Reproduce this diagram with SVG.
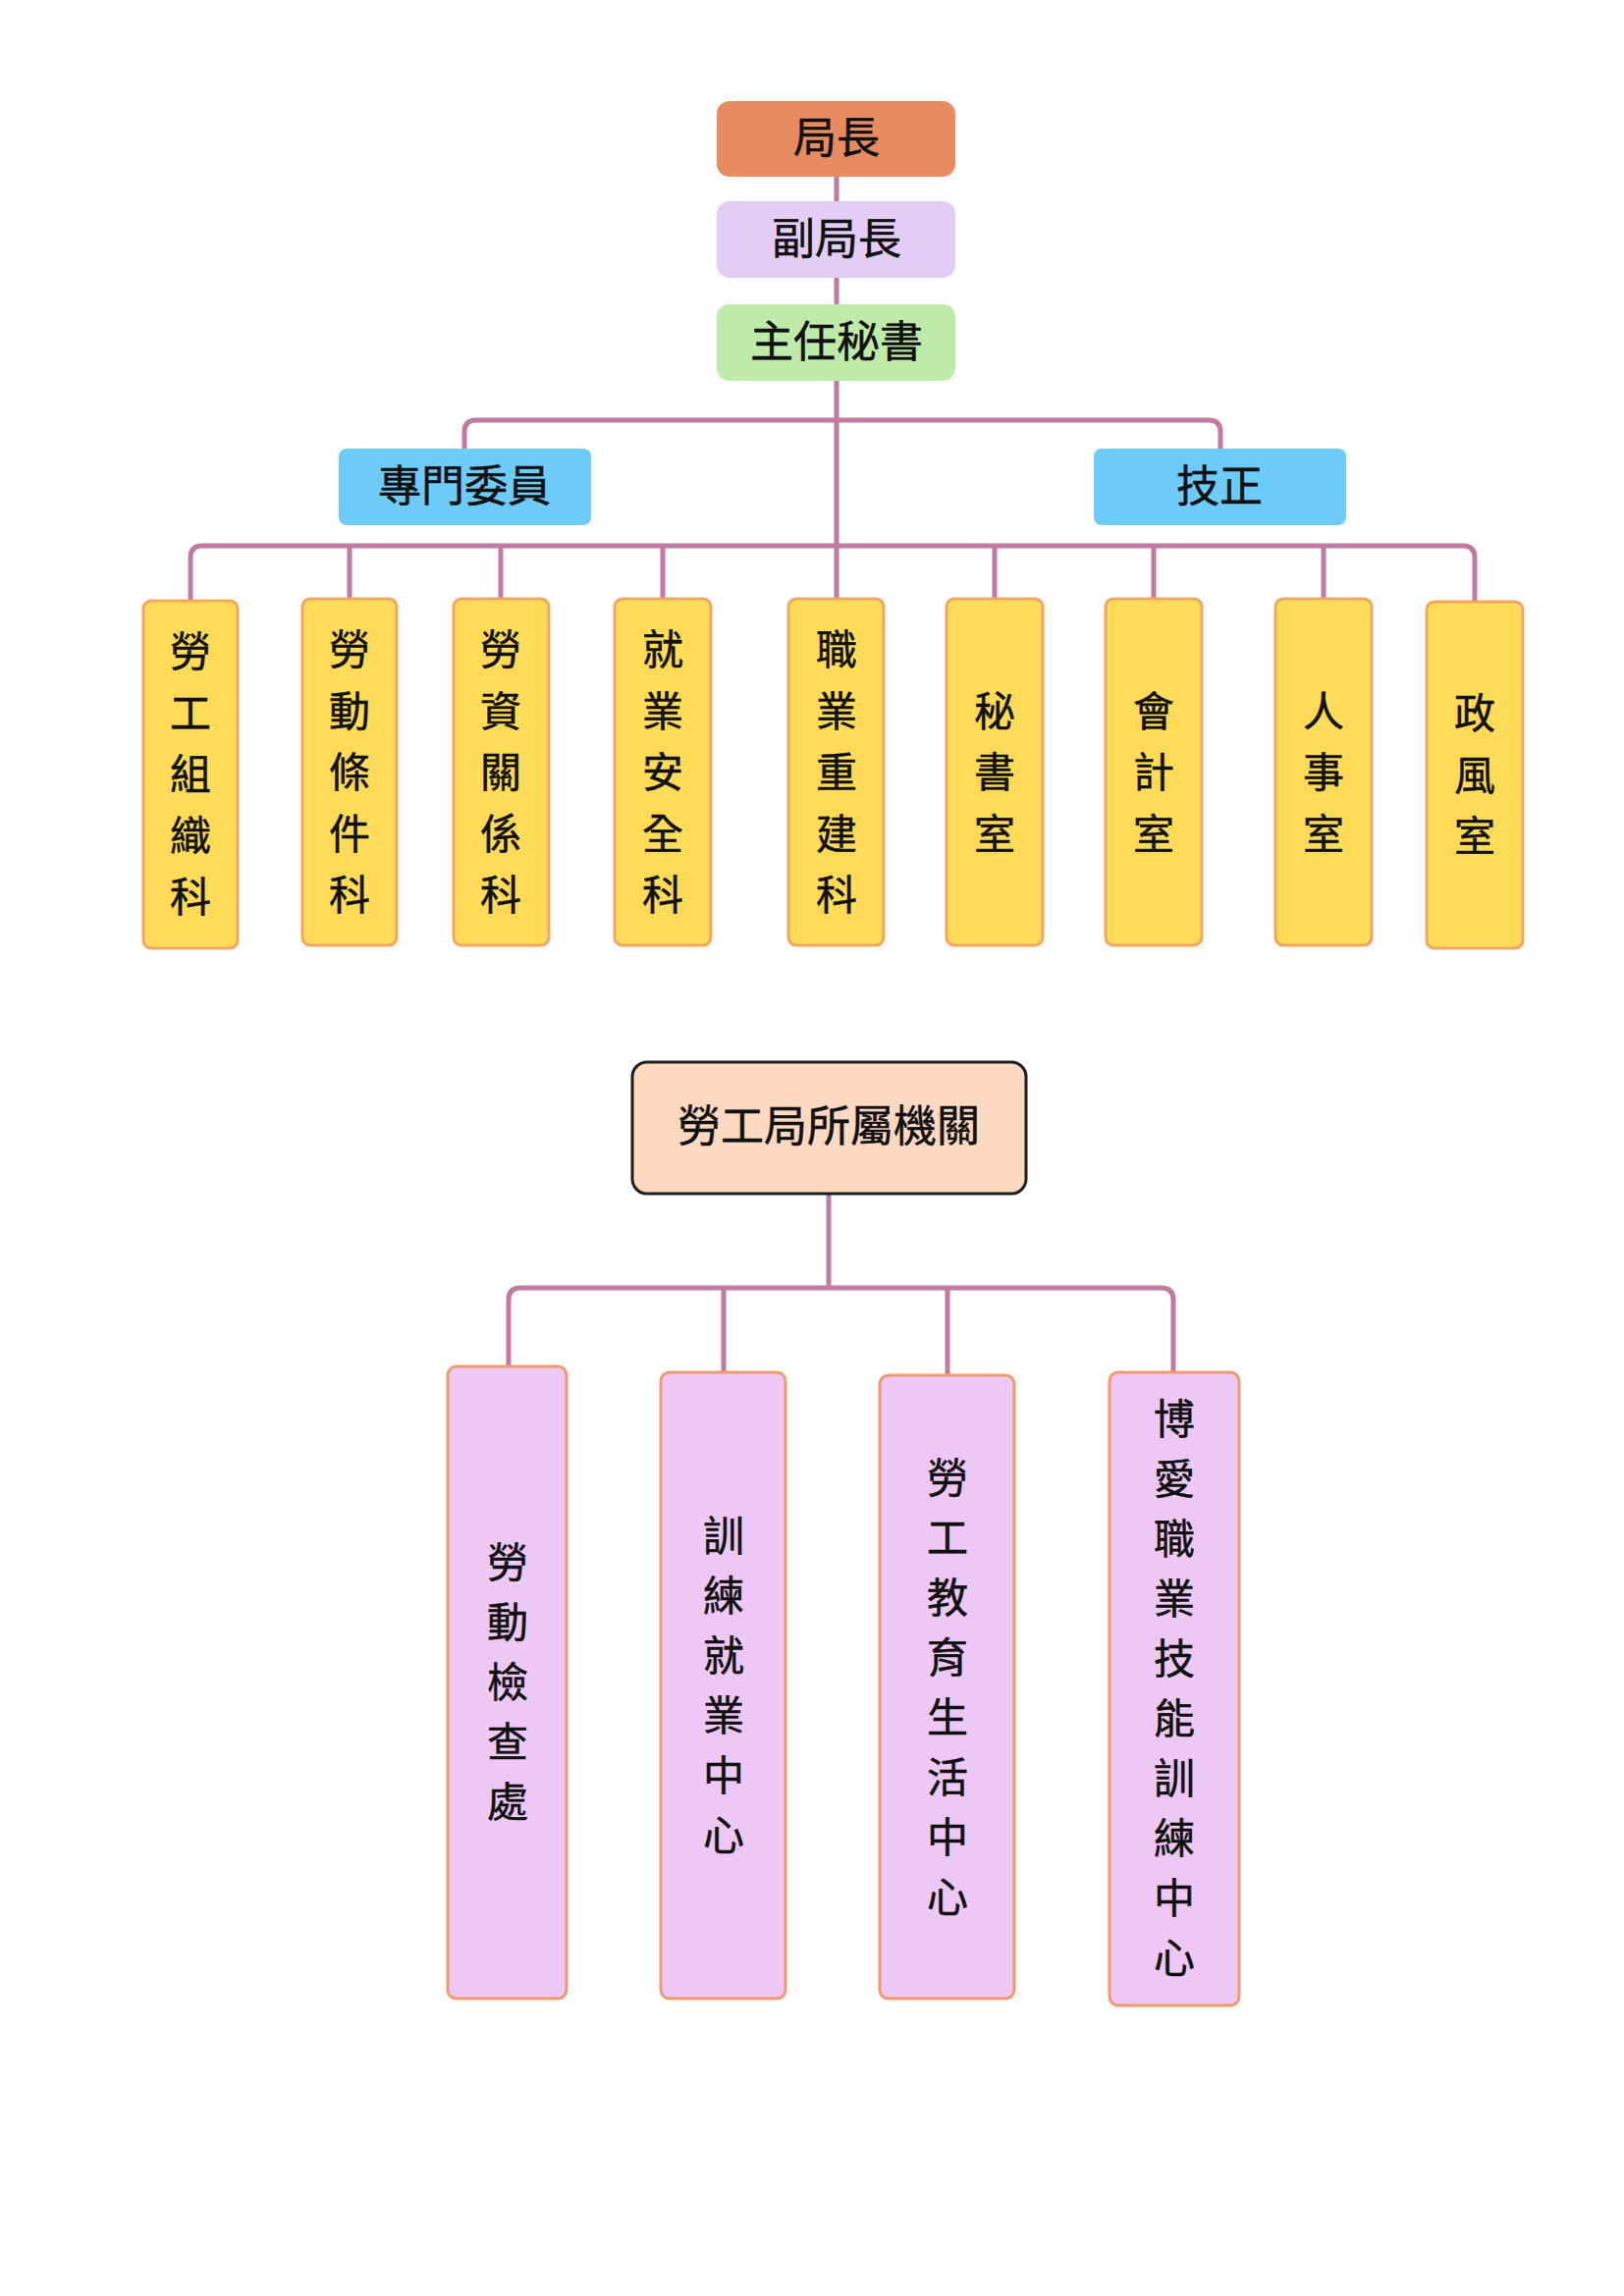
<svg xmlns="http://www.w3.org/2000/svg" width="1654" height="2339" viewBox="0 0 1654 2339">
<defs>
<style>
text{font-family:"Noto Sans CJK TC","Noto Sans CJK SC",sans-serif;fill:#111;text-anchor:middle;dominant-baseline:central;stroke:#111;stroke-width:0.5;transform:translateY(-4px)}
.t44{font-size:44px}
.t42{font-size:42px}
.conn{fill:none;stroke:#C27AA0;stroke-width:5;stroke-linecap:butt}
.yel{fill:#FFDB58;stroke:#F4A55E;stroke-width:3}
.pur{fill:#EDC8F4;stroke:#F29A6C;stroke-width:3}
</style>
</defs>
<rect width="1654" height="2339" fill="#FFFFFF"/>
<g id="connectors">
<path class="conn" d="M852,180 V610"/>
<path class="conn" d="M473,457 V440 Q473,428 485,428 H1231 Q1243,428 1243,440 V457"/>
<path class="conn" d="M194,612 V568 Q194,556 206,556 H1490 Q1502,556 1502,568 V613"/>
<path class="conn" d="M356,556 V610 M510,556 V610 M675,556 V610 M1013,556 V610 M1175,556 V610 M1348,556 V610"/>
<path class="conn" d="M844,1216 V1312"/>
<path class="conn" d="M518,1392 V1324 Q518,1312 530,1312 H1183 Q1195,1312 1195,1324 V1398"/>
<path class="conn" d="M737,1312 V1398 M965,1312 V1401"/>
</g>
<g id="n-director"><rect x="730" y="103" width="243" height="77" rx="13" fill="#E88B60"/><text class="t44" x="852" y="141">局長</text></g>
<g id="n-deputy"><rect x="730" y="205" width="243" height="78" rx="13" fill="#E3CDF6"/><text class="t44" x="852" y="244">副局長</text></g>
<g id="n-secretary"><rect x="730" y="310" width="243" height="78" rx="13" fill="#BFEBAA"/><text class="t44" x="852" y="349">主任秘書</text></g>
<g id="n-commissioner"><rect x="345" y="457" width="257" height="78" rx="8" fill="#6DCBFA"/><text class="t44" x="473" y="496">專門委員</text></g>
<g id="n-technician"><rect x="1114" y="457" width="257" height="78" rx="8" fill="#6DCBFA"/><text class="t44" x="1242" y="496">技正</text></g>
<g id="n-y1"><rect class="yel" x="146" y="612" width="96" height="354" rx="8"/><text class="t42"><tspan x="194" y="664">勞</tspan><tspan x="194" y="726.5">工</tspan><tspan x="194" y="789">組</tspan><tspan x="194" y="851.5">織</tspan><tspan x="194" y="914">科</tspan></text></g>
<g id="n-y2"><rect class="yel" x="308" y="610" width="96" height="353" rx="8"/><text class="t42"><tspan x="356" y="662">勞</tspan><tspan x="356" y="724.5">動</tspan><tspan x="356" y="787">條</tspan><tspan x="356" y="849.5">件</tspan><tspan x="356" y="912">科</tspan></text></g>
<g id="n-y3"><rect class="yel" x="462" y="610" width="97" height="353" rx="8"/><text class="t42"><tspan x="510" y="662">勞</tspan><tspan x="510" y="724.5">資</tspan><tspan x="510" y="787">關</tspan><tspan x="510" y="849.5">係</tspan><tspan x="510" y="912">科</tspan></text></g>
<g id="n-y4"><rect class="yel" x="626" y="610" width="98" height="353" rx="8"/><text class="t42"><tspan x="675" y="662">就</tspan><tspan x="675" y="724.5">業</tspan><tspan x="675" y="787">安</tspan><tspan x="675" y="849.5">全</tspan><tspan x="675" y="912">科</tspan></text></g>
<g id="n-y5"><rect class="yel" x="803" y="610" width="97" height="353" rx="8"/><text class="t42"><tspan x="852" y="662">職</tspan><tspan x="852" y="724.5">業</tspan><tspan x="852" y="787">重</tspan><tspan x="852" y="849.5">建</tspan><tspan x="852" y="912">科</tspan></text></g>
<g id="n-y6"><rect class="yel" x="964" y="610" width="98" height="353" rx="8"/><text class="t42"><tspan x="1013" y="724.5">秘</tspan><tspan x="1013" y="787">書</tspan><tspan x="1013" y="849.5">室</tspan></text></g>
<g id="n-y7"><rect class="yel" x="1126" y="610" width="98" height="353" rx="8"/><text class="t42"><tspan x="1175" y="724.5">會</tspan><tspan x="1175" y="787">計</tspan><tspan x="1175" y="849.5">室</tspan></text></g>
<g id="n-y8"><rect class="yel" x="1299" y="610" width="98" height="353" rx="8"/><text class="t42"><tspan x="1348" y="724.5">人</tspan><tspan x="1348" y="787">事</tspan><tspan x="1348" y="849.5">室</tspan></text></g>
<g id="n-y9"><rect class="yel" x="1453" y="613" width="98" height="353" rx="8"/><text class="t42"><tspan x="1502" y="727">政</tspan><tspan x="1502" y="789.5">風</tspan><tspan x="1502" y="852">室</tspan></text></g>
<g id="n-affiliated"><rect x="644" y="1082" width="401" height="134" rx="15" fill="#FDD9C2" stroke="#1E1E1E" stroke-width="3"/><text class="t44" x="844" y="1148">勞工局所屬機關</text></g>
<g id="n-p1"><rect class="pur" x="456" y="1392" width="121" height="644" rx="9"/><text class="t42"><tspan x="517" y="1592">勞</tspan><tspan x="517" y="1653">動</tspan><tspan x="517" y="1714">檢</tspan><tspan x="517" y="1775">查</tspan><tspan x="517" y="1836">處</tspan></text></g>
<g id="n-p2"><rect class="pur" x="673" y="1398" width="127" height="638" rx="9"/><text class="t42"><tspan x="737" y="1564.5">訓</tspan><tspan x="737" y="1625.5">練</tspan><tspan x="737" y="1686.5">就</tspan><tspan x="737" y="1747.5">業</tspan><tspan x="737" y="1808.5">中</tspan><tspan x="737" y="1869.5">心</tspan></text></g>
<g id="n-p3"><rect class="pur" x="896" y="1401" width="137" height="635" rx="9"/><text class="t42"><tspan x="965" y="1505.5">勞</tspan><tspan x="965" y="1566.5">工</tspan><tspan x="965" y="1627.5">教</tspan><tspan x="965" y="1688.5">育</tspan><tspan x="965" y="1749.5">生</tspan><tspan x="965" y="1810.5">活</tspan><tspan x="965" y="1871.5">中</tspan><tspan x="965" y="1932.5">心</tspan></text></g>
<g id="n-p4"><rect class="pur" x="1130" y="1398" width="132" height="645" rx="9"/><text class="t42"><tspan x="1196" y="1446">博</tspan><tspan x="1196" y="1507">愛</tspan><tspan x="1196" y="1568">職</tspan><tspan x="1196" y="1629">業</tspan><tspan x="1196" y="1690">技</tspan><tspan x="1196" y="1751">能</tspan><tspan x="1196" y="1812">訓</tspan><tspan x="1196" y="1873">練</tspan><tspan x="1196" y="1934">中</tspan><tspan x="1196" y="1995">心</tspan></text></g>
</svg>
